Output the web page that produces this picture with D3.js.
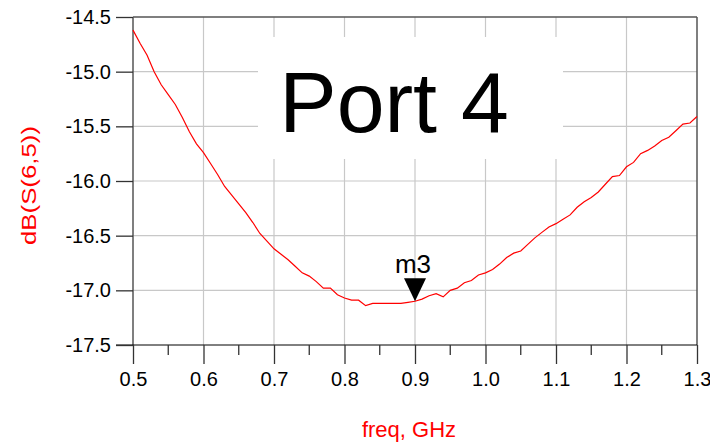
<!DOCTYPE html>
<html>
<head>
<meta charset="utf-8">
<script src="https://cdn.jsdelivr.net/npm/d3@7"></script>
<style>
  html, body { margin: 0; padding: 0; background: #fff; }
  svg { display: block; font-family: Arial, "Liberation Sans", sans-serif; }
</style>
</head>
<body>
<svg id="chart" width="710" height="446"></svg>
<script>
// Frequency sweep (GHz) and dB(S(6,5)) samples
const freq = [0.50,0.51,0.52,0.53,0.54,0.55,0.56,0.57,0.58,0.59,
              0.60,0.61,0.62,0.63,0.64,0.65,0.66,0.67,0.68,0.69,
              0.70,0.71,0.72,0.73,0.74,0.75,0.76,0.77,0.78,0.79,
              0.80,0.81,0.82,0.83,0.84,0.85,0.86,0.87,0.88,0.89,
              0.90,0.91,0.92,0.93,0.94,0.95,0.96,0.97,0.98,0.99,
              1.00,1.01,1.02,1.03,1.04,1.05,1.06,1.07,1.08,1.09,
              1.10,1.11,1.12,1.13,1.14,1.15,1.16,1.17,1.18,1.19,
              1.20,1.21,1.22,1.23,1.24,1.25,1.26,1.27,1.28,1.29,1.30];
const s65 = [-14.62,-14.74,-14.85,-15.00,-15.12,-15.21,-15.30,-15.42,-15.55,-15.66,
             -15.74,-15.84,-15.94,-16.05,-16.13,-16.21,-16.29,-16.38,-16.48,-16.55,
             -16.62,-16.67,-16.72,-16.78,-16.84,-16.87,-16.92,-16.98,-16.98,-17.04,
             -17.07,-17.09,-17.09,-17.14,-17.12,-17.12,-17.12,-17.12,-17.12,-17.11,
             -17.10,-17.08,-17.05,-17.03,-17.06,-17.00,-16.98,-16.93,-16.91,-16.86,
             -16.84,-16.81,-16.76,-16.70,-16.66,-16.64,-16.58,-16.52,-16.47,-16.42,
             -16.39,-16.35,-16.31,-16.24,-16.19,-16.15,-16.10,-16.03,-15.96,-15.95,
             -15.87,-15.83,-15.75,-15.72,-15.68,-15.63,-15.60,-15.54,-15.48,-15.47,-15.41];

const xTicks = [0.5,0.6,0.7,0.8,0.9,1.0,1.1,1.2,1.3];
const xMinorTicks = [0.55,0.65,0.75,0.85,0.95,1.05,1.15,1.25];
const yTicks = [-14.5,-15.0,-15.5,-16.0,-16.5,-17.0,-17.5];

const markerName = "m3";
const markerFreq = 0.9;
const titleText = "Port 4";

const svg = d3.select("#chart");
const plot = { left: 133, right: 697, top: 17, bottom: 345 };

const x = d3.scaleLinear().domain([0.5, 1.3]).range([plot.left, plot.right]);
const y = d3.scaleLinear().domain([-14.5, -17.5]).range([plot.top, plot.bottom]);

// plain hyphen-minus for negative tick labels
const fmt = d => d.toFixed(1);

// grid
const grid = svg.append("g").attr("stroke", "#c8c8c8").attr("stroke-width", 1.2);
grid.selectAll("line.v").data(xTicks.slice(1, -1)).join("line").attr("class", "v")
  .attr("x1", d => x(d)).attr("x2", d => x(d))
  .attr("y1", plot.top).attr("y2", plot.bottom);
grid.selectAll("line.h").data(yTicks.slice(1, -1)).join("line").attr("class", "h")
  .attr("x1", plot.left).attr("x2", plot.right)
  .attr("y1", d => y(d)).attr("y2", d => y(d));

// title box hides the grid behind it
svg.append("rect").attr("x", 258).attr("y", 37).attr("width", 305).attr("height", 122)
  .attr("fill", "#fff");
svg.append("text").attr("x", 394).attr("y", 132).attr("text-anchor", "middle")
  .attr("font-size", 86).attr("fill", "#000").text(titleText);

// frame
svg.append("line").attr("x1", plot.left).attr("x2", plot.right).attr("y1", plot.top).attr("y2", plot.top)
  .attr("stroke", "#555").attr("stroke-width", 1.5);
svg.append("line").attr("x1", plot.right).attr("x2", plot.right).attr("y1", plot.top).attr("y2", plot.bottom)
  .attr("stroke", "#555").attr("stroke-width", 1.5);
svg.append("line").attr("x1", plot.left).attr("x2", plot.left).attr("y1", plot.top).attr("y2", plot.bottom)
  .attr("stroke", "#555").attr("stroke-width", 1.5);

// x axis
const xAxis = d3.axisBottom(x).tickValues(xTicks).tickSize(19).tickPadding(8).tickFormat(fmt);
const gx = svg.append("g").attr("transform", `translate(0,${plot.bottom})`).call(xAxis);
gx.select(".domain").attr("stroke", "#000").attr("d", `M${plot.left - 17},0H${plot.right}`);
gx.selectAll(".tick line").attr("stroke", "#333").attr("stroke-width", 1.3);
gx.selectAll(".tick text").attr("font-size", 20).attr("fill", "#000")
  .attr("font-family", "Arial, 'Liberation Sans', sans-serif");
svg.append("g").selectAll("line").data(xMinorTicks).join("line")
  .attr("x1", d => x(d)).attr("x2", d => x(d))
  .attr("y1", plot.bottom).attr("y2", plot.bottom + 10)
  .attr("stroke", "#333").attr("stroke-width", 1.3);

// y axis
const yAxis = d3.axisLeft(y).tickValues(yTicks).tickSize(17).tickPadding(5).tickFormat(fmt);
const gy = svg.append("g").attr("transform", `translate(${plot.left},0)`).call(yAxis);
gy.select(".domain").remove();
gy.selectAll(".tick line").attr("stroke", "#333").attr("stroke-width", 1.3);
gy.selectAll(".tick text").attr("font-size", 20).attr("fill", "#000")
  .attr("font-family", "Arial, 'Liberation Sans', sans-serif");

// trace
const pts = freq.map((f, i) => [f, s65[i]]);
svg.append("path").datum(pts)
  .attr("fill", "none").attr("stroke", "#ff0000").attr("stroke-width", 1.2)
  .attr("d", d3.line().x(d => x(d[0])).y(d => y(d[1])));

// marker
const mi = freq.findIndex(f => Math.abs(f - markerFreq) < 1e-9);
const mx = x(markerFreq), my = y(s65[mi]);
svg.append("path")
  .attr("d", `M${mx},${my}L${mx - 11},${my - 23}L${mx + 11},${my - 23}Z`)
  .attr("fill", "#000");
svg.append("text").attr("x", mx - 2).attr("y", my - 28).attr("text-anchor", "middle")
  .attr("font-size", 26).attr("fill", "#000").text(markerName);

// axis titles
svg.append("text").attr("x", 409).attr("y", 437).attr("text-anchor", "middle")
  .attr("font-size", 22).attr("fill", "#ff0000").text("freq, GHz");
svg.append("text").attr("transform", "translate(36,185.5) rotate(-90)")
  .attr("text-anchor", "middle").attr("font-size", 21).attr("fill", "#ff0000")
  .attr("textLength", 119).attr("lengthAdjust", "spacingAndGlyphs")
  .text("dB(S(6,5))");
</script>
</body>
</html>
